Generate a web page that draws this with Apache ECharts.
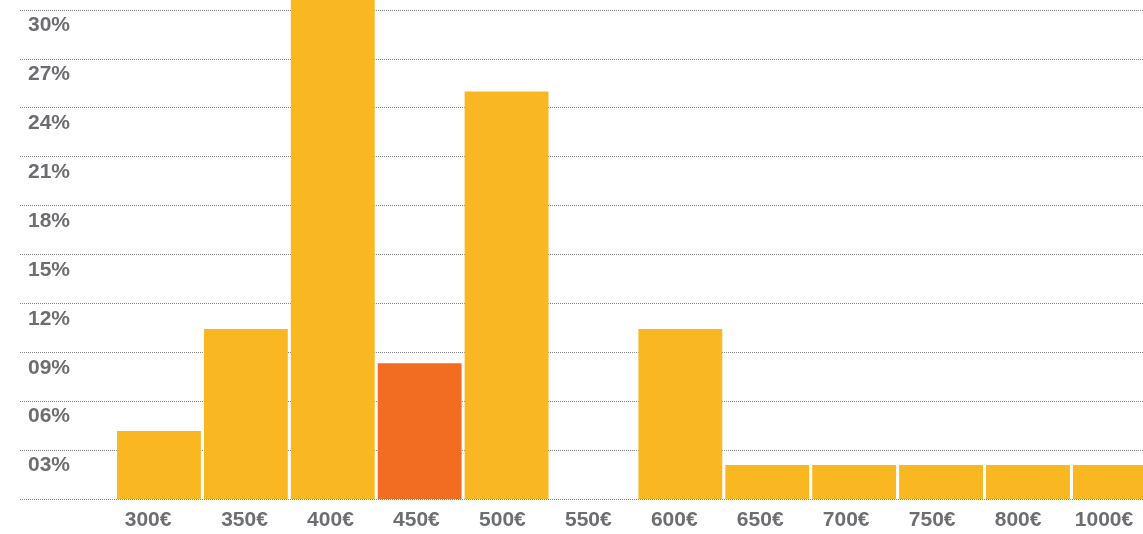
<!DOCTYPE html>
<html>
<head>
<meta charset="utf-8">
<script src="https://cdn.jsdelivr.net/npm/echarts@6/dist/echarts.min.js"></script>
<style>
  html, body { margin: 0; padding: 0; background: #ffffff; overflow: hidden; width: 1143px; height: 534px; position: relative; }
  /* the plot runs past the page edges at the top and right */
  #chart { position: absolute; left: 0; top: -40px; width: 1160px; height: 574px; }
</style>
</head>
<body>
<div id="chart"></div>
<script>
// Price brackets and share of answers (%)
const categories = ['300€', '350€', '400€', '450€', '500€', '550€', '600€', '650€', '700€', '750€', '800€', '1000€'];
const shares = [4.17, 10.42, 31.25, 8.33, 25.0, 0, 10.42, 2.08, 2.08, 2.08, 2.08, 2.08];
const highlightIndex = 3; // 450€ bracket drawn in orange

const yMin = 0, yMax = 33, yStep = 3;

const YELLOW = '#F9B722';
const ORANGE = '#F26C22';
const TEXT = '#6d6e71';
const FONT = '"Liberation Sans", Arial, sans-serif';

const chart = echarts.init(document.getElementById('chart'), null, { renderer: 'canvas' });

const barData = shares.map((v, i) => ({
  value: v,
  itemStyle: { color: i === highlightIndex ? ORANGE : YELLOW }
}));

// bracket labels sit on their own, slightly narrower category band
const xLabels = categories.map((c, i) => i === 0
  ? { value: c, textStyle: { padding: [0, 21, 0, 0] } }
  : c);

const hiddenY = (gridIndex) => ({
  gridIndex, type: 'value', min: yMin, max: yMax, interval: yStep, show: false
});

chart.setOption({
  animation: false,
  backgroundColor: '#ffffff',
  grid: [
    // full-width grid carrying the percentage grid lines and labels
    { left: 20, right: 1.7, top: 1, bottom: 35 },
    // plotting grid for the bars
    { left: 115.5, right: 1.7, top: 1, bottom: 35 },
    // band for the bracket labels
    { left: 115.6, right: 13, top: 1, bottom: 35 }
  ],
  xAxis: [
    { gridIndex: 0, type: 'value', min: 0, max: 1, show: false },
    {
      gridIndex: 1,
      type: 'category',
      data: categories,
      axisLine: { show: false },
      axisTick: { show: false },
      axisLabel: { show: false }
    },
    {
      gridIndex: 2,
      type: 'category',
      data: xLabels,
      axisLine: { show: false },
      axisTick: { show: false },
      splitLine: { show: false },
      axisLabel: {
        color: TEXT,
        fontFamily: FONT,
        fontWeight: 'bold',
        fontSize: 21,
        margin: 11
      }
    }
  ],
  yAxis: [
    {
      gridIndex: 0,
      type: 'value',
      min: yMin,
      max: yMax,
      interval: yStep,
      axisLine: { show: false },
      axisTick: { show: false },
      splitLine: {
        show: true,
        lineStyle: { color: '#888888', width: 1, type: [1, 1] }
      },
      axisLabel: {
        inside: true,
        margin: 8,
        verticalAlign: 'top',
        padding: [5, 0, 0, 0],
        color: TEXT,
        fontFamily: FONT,
        fontWeight: 'bold',
        fontSize: 21,
        formatter: v => v === 0 ? '' : String(v).padStart(2, '0') + '%'
      }
    },
    hiddenY(1),
    hiddenY(2)
  ],
  series: [
    {
      type: 'bar',
      xAxisIndex: 1,
      yAxisIndex: 1,
      data: barData,
      barCategoryGap: '3.5%',
      z: 3
    }
  ]
});
</script>
</body>
</html>
